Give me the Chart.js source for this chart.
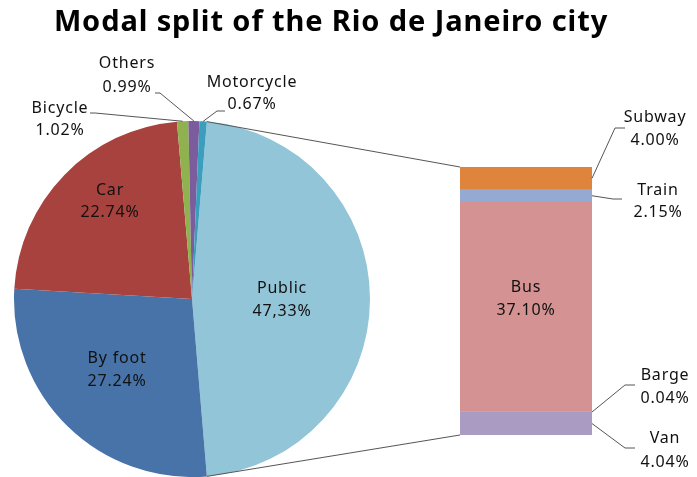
<!DOCTYPE html>
<html>
<head>
<meta charset="utf-8">
<script src="https://cdn.jsdelivr.net/npm/chart.js@4"></script>
<style>
  body { margin: 0; background: #fff; }
  #wrap { position: relative; width: 697px; height: 477px; overflow: hidden; }
  #wrap canvas { position: absolute; left: 0; top: 0; }
  #title {
    position: absolute; left: 0; top: 0; width: 662px; height: 50px;
    line-height: 50px; text-align: center; color: #000;
    font: bold 29px 'Noto Sans', sans-serif; letter-spacing: 0.9px;
  }
</style>
</head>
<body>
<div id="wrap">
  <canvas id="pieChart" width="697" height="477"></canvas>
  <canvas id="barChart" width="697" height="477"></canvas>
  <div id="title"></div>
</div>
<script>
// ---------------- dados ----------------
const chartTitle = "Modal split of the Rio de Janeiro city";

const pieLabels = ["Public", "By foot", "Car", "Bicycle", "Others", "Motorcycle"];
const pieValues = [47.33, 27.24, 22.74, 1.02, 0.99, 0.67];
const pieValueText = ["47,33%", "27.24%", "22.74%", "1.02%", "0.99%", "0.67%"];
const pieColors = ["#93c5d8", "#4773a9", "#a8423f", "#8fb24f", "#7b5c9c", "#3c9ebd"];

// barra empilhada (de baixo para cima)
const barLabels = ["Van", "Barge", "Bus", "Train", "Subway"];
const barValues = [4.04, 0.04, 37.10, 2.15, 4.00];
const barValueText = ["4.04%", "0.04%", "37.10%", "2.15%", "4.00%"];
const barColors = ["#a99bc2", "#b6cf8a", "#d49292", "#95aad3", "#df843c"];

// ---------------- estilo ----------------
const FONT = "'Noto Sans', sans-serif";
const TEXT_COLOR = "#111";
const LINE_COLOR = "#555";

// posições dos rótulos (texto centralizado, y de cada linha)
const pieLabelSpots = {
    "Public":     { x: 282, y: [288, 311] },
    "By foot":    { x: 117, y: [358, 381] },
    "Car":        { x: 110, y: [190, 212] },
    "Bicycle":    { x: 60,  y: [108, 130], leader: [[90, 113], [95, 113]] },
    "Others":     { x: 127, y: [63, 87],   leader: [[155, 93], [160, 93]] },
    "Motorcycle": { x: 252, y: [82, 104],  leader: [[225, 111], [217, 111]] }
};
const barLabelSpots = {
    "Subway": { x: 655, y: [117, 140], leader: [[625, 128], [615, 128]] },
    "Train":  { x: 658, y: [190, 212], leader: [[622, 199], [613, 199]] },
    "Bus":    { x: 526, y: [287, 310] },
    "Barge":  { x: 665, y: [375, 398], leader: [[635, 385], [625, 385]] },
    "Van":    { x: 665, y: [438, 462], leader: [[635, 448], [625, 448]] }
};

document.getElementById("title").textContent = chartTitle;

const pieTotal = pieValues.reduce((a, b) => a + b, 0);
const barTotal = barValues.reduce((a, b) => a + b, 0);

function drawLabel(ctx, spot, name, value) {
    ctx.save();
    ctx.fillStyle = TEXT_COLOR;
    ctx.font = "16px " + FONT;
    ctx.letterSpacing = "0.8px";
    ctx.textAlign = "center";
    ctx.textBaseline = "middle";
    ctx.fillText(name, spot.x, spot.y[0]);
    ctx.fillText(value, spot.x, spot.y[1]);
    ctx.restore();
}

function drawLeader(ctx, pts) {
    ctx.save();
    ctx.strokeStyle = LINE_COLOR;
    ctx.lineWidth = 1;
    ctx.beginPath();
    ctx.moveTo(pts[0][0], pts[0][1]);
    for (let i = 1; i < pts.length; i++) ctx.lineTo(pts[i][0], pts[i][1]);
    ctx.stroke();
    ctx.restore();
}

// rótulos da pizza
const pieLabelPlugin = {
    id: "pieLabels",
    afterDatasetsDraw(chart) {
        const ctx = chart.ctx;
        const arcs = chart.getDatasetMeta(0).data;
        arcs.forEach((arc, i) => {
            const spot = pieLabelSpots[pieLabels[i]];
            if (spot.leader) {
                const mid = (arc.startAngle + arc.endAngle) / 2;
                const tip = [arc.x + arc.outerRadius * Math.cos(mid), arc.y + arc.outerRadius * Math.sin(mid)];
                drawLeader(ctx, [...spot.leader, tip]);
            }
            drawLabel(ctx, spot, pieLabels[i], pieValueText[i]);
        });
    }
};

const pieChart = new Chart(document.getElementById("pieChart"), {
    type: "pie",
    data: {
        labels: pieLabels,
        datasets: [{
            data: pieValues,
            backgroundColor: pieColors,
            borderWidth: 0,
            hoverOffset: 0,
            offset: 0
        }]
    },
    options: {
        responsive: false,
        animation: false,
        events: [],
        // fatia "Public" centrada à direita
        rotation: 90 - (pieValues[0] / pieTotal) * 180,
        layout: { padding: { left: 14, right: 327, top: 121, bottom: 0 } },
        plugins: {
            legend: { display: false },
            tooltip: { enabled: false }
        }
    },
    plugins: [pieLabelPlugin]
});

// linhas de ligação + rótulos da barra
const barLabelPlugin = {
    id: "barLabels",
    afterDatasetsDraw(chart) {
        const ctx = chart.ctx;
        const pubArc = pieChart.getDatasetMeta(0).data[0];
        const r = pubArc.outerRadius;
        const topBar = chart.getDatasetMeta(barValues.length - 1).data[0];
        const botBar = chart.getDatasetMeta(0).data[0];
        const left = topBar.x - topBar.width / 2;
        const right = topBar.x + topBar.width / 2;

        drawLeader(ctx, [
            [pubArc.x + r * Math.cos(pubArc.startAngle), pubArc.y + r * Math.sin(pubArc.startAngle)],
            [left, topBar.y]
        ]);
        drawLeader(ctx, [
            [pubArc.x + r * Math.cos(pubArc.endAngle), pubArc.y + r * Math.sin(pubArc.endAngle)],
            [left, botBar.base]
        ]);

        barLabels.forEach((name, i) => {
            const el = chart.getDatasetMeta(i).data[0];
            const spot = barLabelSpots[name];
            if (spot.leader) {
                drawLeader(ctx, [...spot.leader, [right, (el.y + el.base) / 2]]);
            }
            drawLabel(ctx, spot, name, barValueText[i]);
        });
    }
};

new Chart(document.getElementById("barChart"), {
    type: "bar",
    data: {
        labels: [""],
        datasets: barLabels.map((name, i) => ({
            label: name,
            data: [barValues[i]],
            backgroundColor: barColors[i],
            borderWidth: 0,
            barPercentage: 1,
            categoryPercentage: 1
        }))
    },
    options: {
        responsive: false,
        animation: false,
        events: [],
        layout: { padding: { left: 460, right: 105, top: 167, bottom: 42 } },
        scales: {
            x: { display: false, stacked: true },
            y: { display: false, stacked: true, min: 0, max: barTotal }
        },
        plugins: {
            legend: { display: false },
            tooltip: { enabled: false }
        }
    },
    plugins: [barLabelPlugin]
});
</script>
</body>
</html>
